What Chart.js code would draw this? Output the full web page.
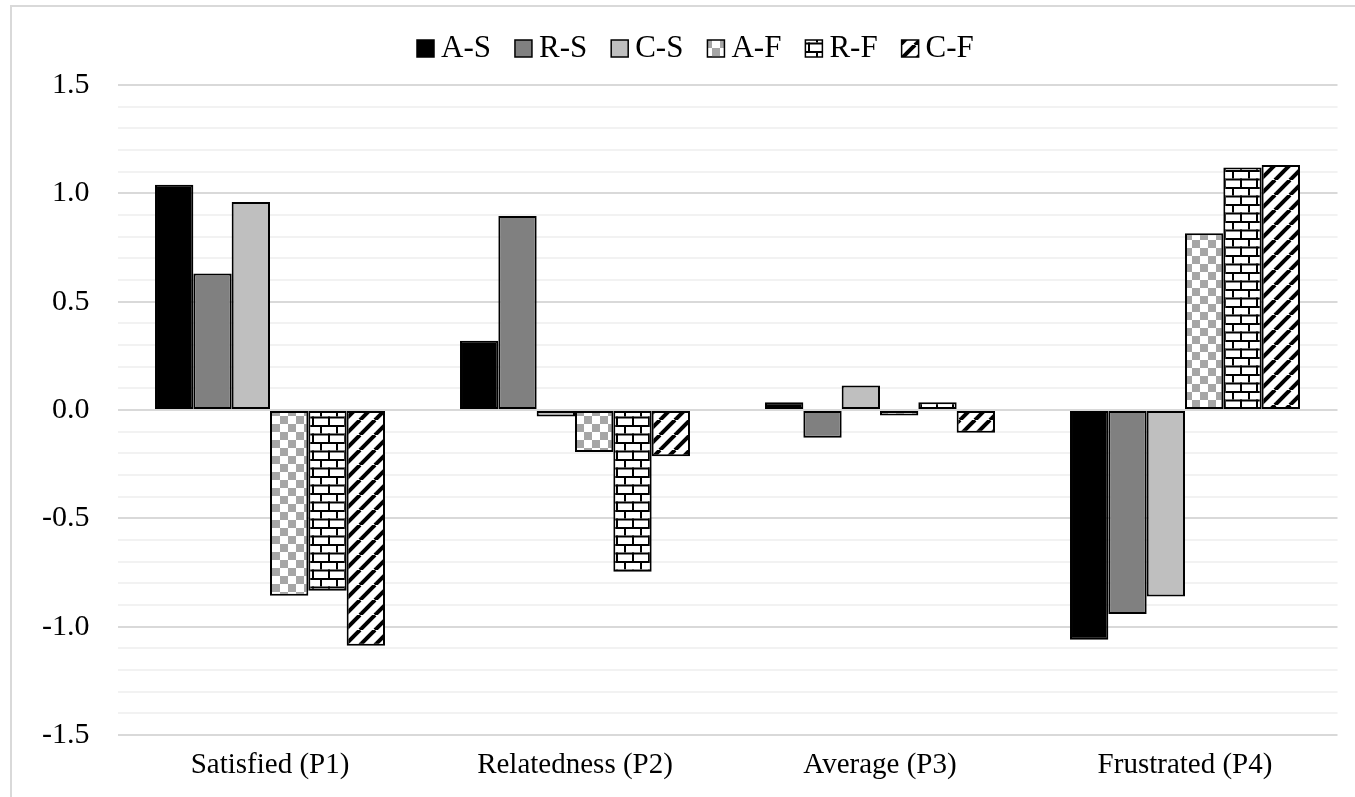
<!DOCTYPE html>
<html>
<head>
<meta charset="utf-8">
<script src="https://cdn.jsdelivr.net/npm/chart.js@4/dist/chart.umd.min.js"></script>
<style>
  html, body { margin: 0; padding: 0; background: #fff; }
  #wrap { position: relative; width: 1355px; height: 797px; overflow: hidden; }
  #frame { position: absolute; left: 10px; top: 5px; width: 1400px; height: 850px;
           border: 2px solid #d9d9d9; pointer-events: none; }
  canvas { position: absolute; left: 0; top: 0; }
</style>
</head>
<body>
<div id="wrap">
  <canvas id="chart" width="1355" height="797"></canvas>
  <div id="frame"></div>
</div>
<script>
var categories = ['Satisfied (P1)', 'Relatedness (P2)', 'Average (P3)', 'Frustrated (P4)'];
var seriesNames = ['A-S', 'R-S', 'C-S', 'A-F', 'R-F', 'C-F'];

var aS = [1.04, 0.32, 0.036, -1.06];
var rS = [0.63, 0.895, -0.128, -0.942];
var cS = [0.96, -0.03, 0.113, -0.861];
var aF = [-0.857, -0.194, -0.025, 0.816];
var rF = [-0.834, -0.746, 0.036, 1.119];
var cF = [-1.088, -0.214, -0.105, 1.131];

var serif = '"Liberation Serif", "Times New Roman", serif';

function makeTile(w, h, draw) {
    var c = document.createElement('canvas');
    c.width = w;
    c.height = h;
    var g = c.getContext('2d');
    g.fillStyle = '#fff';
    g.fillRect(0, 0, w, h);
    draw(g);
    return document.getElementById('chart').getContext('2d').createPattern(c, 'repeat');
}

// checkerboard
var checker = makeTile(16, 16, function (g) {
    g.fillStyle = '#a6a6a6';
    g.fillRect(8, 0, 8, 8);
    g.fillRect(0, 8, 8, 8);
});

// horizontal bricks
var bricks = makeTile(16, 17, function (g) {
    g.fillStyle = '#000';
    g.fillRect(0, 0, 16, 2);
    g.fillRect(0, 8.5, 16, 2);
    g.fillRect(0, 0, 2, 8.5);
    g.fillRect(8, 8.5, 2, 8.5);
});

// wide upward diagonal
var diag = makeTile(15, 15, function (g) {
    g.strokeStyle = '#000';
    g.lineWidth = 4;
    for (var k = -1; k <= 1; k++) {
        g.beginPath();
        g.moveTo(k * 15, 15);
        g.lineTo(k * 15 + 15, 0);
        g.stroke();
    }
});

var fills = ['#000000', '#808080', '#bfbfbf', checker, bricks, diag];
var values = [aS, rS, cS, aF, rF, cF];

var datasets = [];
for (var i = 0; i < seriesNames.length; i++) {
    datasets.push({
        label: seriesNames[i],
        data: values[i],
        backgroundColor: fills[i],
        borderColor: '#000',
        borderWidth: 2,
        borderSkipped: false
    });
}

// legend drawn by hand so the box/text gaps match
var legendPlugin = {
    id: 'handLegend',
    afterDraw: function (chart) {
        var ctx = chart.ctx;
        ctx.save();
        ctx.font = '31px ' + serif;
        ctx.textBaseline = 'alphabetic';
        var x = 417;
        chart.data.datasets.forEach(function (ds) {
            ctx.fillStyle = ds.backgroundColor;
            ctx.fillRect(x, 40, 17, 17);
            ctx.strokeStyle = '#000';
            ctx.lineWidth = 1.5;
            ctx.strokeRect(x, 40, 17, 17);
            ctx.fillStyle = '#000';
            ctx.fillText(ds.label, x + 24, 57);
            x += 24 + ctx.measureText(ds.label).width + 24;
        });
        ctx.restore();
    }
};

var ctx = document.getElementById('chart').getContext('2d');
var chart = new Chart(ctx, {
    type: 'bar',
    data: {
        labels: categories,
        datasets: datasets
    },
    options: {
        responsive: false,
        animation: false,
        layout: { padding: { top: 85, right: 17.5, bottom: 0, left: 0 } },
        categoryPercentage: 0.754,
        barPercentage: 1,
        plugins: {
            legend: { display: false },
            tooltip: { enabled: false }
        },
        scales: {
            x: {
                grid: { display: false, drawTicks: false },
                border: { display: false },
                ticks: {
                    color: '#000',
                    font: { family: serif, size: 29 },
                    padding: 13,
                    maxRotation: 0
                },
                afterFit: function (scale) { scale.height = 62; }
            },
            y: {
                min: -1.5,
                max: 1.5,
                border: { display: false },
                grid: {
                    drawTicks: false,
                    lineWidth: 2,
                    color: function (c) {
                        var v = Math.round(c.tick.value * 10);
                        return v % 5 === 0 ? '#d9d9d9' : '#f2f2f2';
                    }
                },
                ticks: {
                    stepSize: 0.1,
                    autoSkip: false,
                    color: '#000',
                    padding: 28,
                    font: { family: serif, size: 30 },
                    callback: function (v) {
                        var t = Math.round(v * 10);
                        return t % 5 === 0 ? (t / 10).toFixed(1) : '';
                    }
                },
                afterFit: function (scale) { scale.width = 117.5; }
            }
        }
    },
    plugins: [legendPlugin]
});
</script>
</body>
</html>
